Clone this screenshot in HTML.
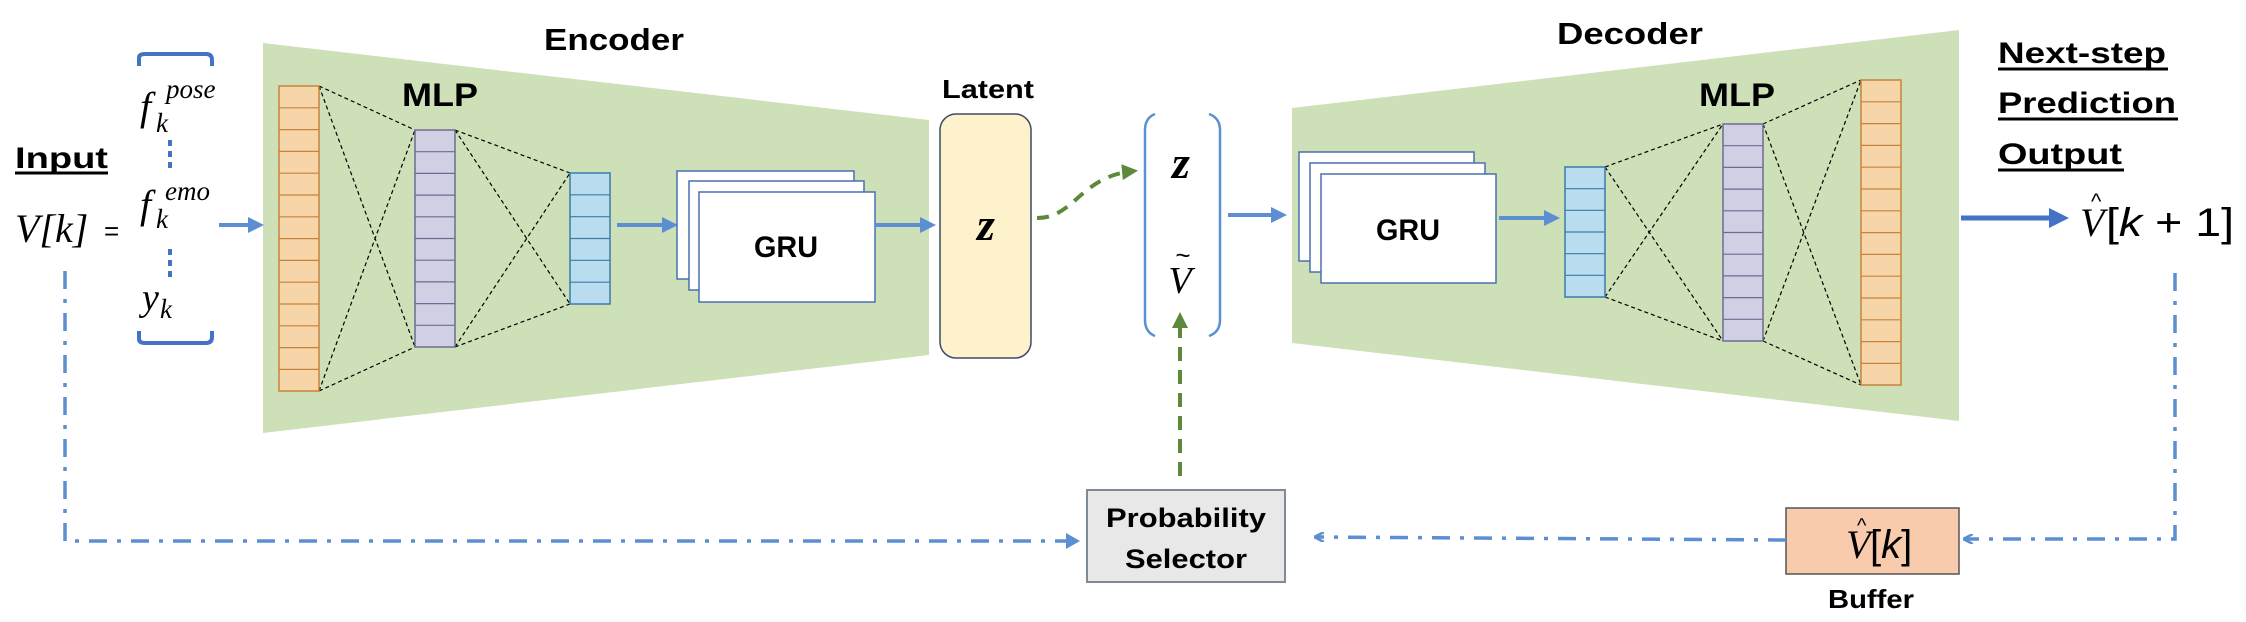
<!DOCTYPE html>
<html><head><meta charset="utf-8"><style>
html,body{margin:0;padding:0;background:#fff;width:2246px;height:622px;overflow:hidden}
svg text{font-family:"Liberation Sans",sans-serif}
.b{font-weight:bold;fill:#000}
.m{font-family:"Liberation Serif",serif !important;font-style:italic;fill:#000}
</style></head><body>
<svg width="2246" height="622" viewBox="0 0 2246 622" xmlns="http://www.w3.org/2000/svg">
<defs>
<marker id="ab" markerWidth="4" markerHeight="4" refX="3" refY="2" orient="auto" markerUnits="strokeWidth"><path d="M0,0 L4,2 L0,4 z" fill="#5b8fd1"/></marker>
<marker id="ad" markerWidth="4" markerHeight="4" refX="3" refY="2" orient="auto" markerUnits="strokeWidth"><path d="M0,0 L4,2 L0,4 z" fill="#4472c4"/></marker>
<marker id="ag" markerWidth="4" markerHeight="4" refX="3" refY="2" orient="auto" markerUnits="strokeWidth"><path d="M0,0 L4,2 L0,4 z" fill="#5d8a3a"/></marker>
<marker id="al" markerWidth="10" markerHeight="10" refX="8" refY="5" orient="auto" markerUnits="userSpaceOnUse"><path d="M0,0 L10,5 L0,10" fill="none" stroke="#5b8fd1" stroke-width="2.5"/></marker>
</defs>

<polygon points="263,43 929,120 929,355 263,433" fill="#cde0b8"/>
<text x="614" y="50" class="b" font-size="31" text-anchor="middle" textLength="140" lengthAdjust="spacingAndGlyphs">Encoder</text>
<text x="440" y="106" class="b" font-size="32" text-anchor="middle" textLength="76" lengthAdjust="spacingAndGlyphs">MLP</text>

<text x="15" y="168" class="b" font-size="30" textLength="93" lengthAdjust="spacingAndGlyphs">Input</text>
<line x1="15" y1="173" x2="108" y2="173" stroke="#000" stroke-width="3"/>
<text x="15" y="242" class="m" font-size="40">V[k]</text>
<text x="104" y="240" font-size="26" fill="#000">=</text>
<path d="M139,66 L139,58 Q139,54 145,54 L206,54 Q212,54 212,60 L212,66" fill="none" stroke="#4472c4" stroke-width="4"/>
<path d="M139,331 L139,339 Q139,343 145,343 L206,343 Q212,343 212,337 L212,331" fill="none" stroke="#4472c4" stroke-width="4"/>
<text x="140" y="120" class="m" font-size="40">f</text><text x="156" y="132" class="m" font-size="27">k</text><text x="166" y="98" class="m" font-size="27">pose</text>
<text x="140" y="218" class="m" font-size="40">f</text><text x="156" y="228" class="m" font-size="27">k</text><text x="165" y="200" class="m" font-size="27">emo</text>
<text x="142" y="310" class="m" font-size="38">y</text><text x="160" y="318" class="m" font-size="27">k</text>
<line x1="170" y1="140" x2="170" y2="168" stroke="#4472c4" stroke-width="4" stroke-dasharray="6,5"/>
<line x1="170" y1="249" x2="170" y2="278" stroke="#4472c4" stroke-width="4" stroke-dasharray="6,5"/>
<line x1="219" y1="225" x2="260" y2="225" stroke="#5b8fd1" stroke-width="4" marker-end="url(#ab)"/>

<g stroke="#000" stroke-width="1.2" stroke-dasharray="4,3" fill="none">
<path d="M319,86 L415,130 M319,86 L415,347 M319,391 L415,130 M319,391 L415,347"/>
<path d="M455,130 L570,173 M455,130 L570,304 M455,347 L570,173 M455,347 L570,304"/>
</g>
<g stroke-width="1.5">
<rect x="279" y="86" width="40" height="305" fill="#f6d5a8" stroke="#c8833a"/>
<rect x="415" y="130" width="40" height="217" fill="#d0cfe3" stroke="#6f6a94"/>
<rect x="570" y="173" width="40" height="131" fill="#b9dcef" stroke="#3b7ca8"/>
</g>
<g stroke-width="1.2">
<path stroke="#c8833a" d="M279,107.8h40M279,129.6h40M279,151.4h40M279,173.2h40M279,195h40M279,216.8h40M279,238.6h40M279,260.4h40M279,282.2h40M279,304h40M279,325.8h40M279,347.6h40M279,369.4h40"/>
<path stroke="#6f6a94" d="M415,151.7h40M415,173.4h40M415,195.1h40M415,216.8h40M415,238.5h40M415,260.2h40M415,281.9h40M415,303.6h40M415,325.3h40"/>
<path stroke="#3b7ca8" d="M570,194.8h40M570,216.7h40M570,238.5h40M570,260.3h40M570,282.2h40"/>
</g>
<line x1="617" y1="225" x2="674" y2="225" stroke="#5b8fd1" stroke-width="4" marker-end="url(#ab)"/>
<g fill="#fff" stroke="#4a6fb0" stroke-width="1.5">
<rect x="677" y="171" width="177" height="108"/>
<rect x="689" y="181" width="175" height="109"/>
<rect x="699" y="192" width="176" height="110"/>
</g>
<text x="786" y="257" class="b" font-size="30" text-anchor="middle" textLength="64" lengthAdjust="spacingAndGlyphs">GRU</text>
<line x1="875" y1="225" x2="932" y2="225" stroke="#5b8fd1" stroke-width="4" marker-end="url(#ab)"/>

<text x="988" y="98" class="b" font-size="26" text-anchor="middle" textLength="92" lengthAdjust="spacingAndGlyphs">Latent</text>
<rect x="940" y="114" width="91" height="244" rx="16" fill="#fdf2cc" stroke="#3c4a66" stroke-width="1.5"/>
<text x="986" y="240" class="m" font-size="46" font-weight="bold" text-anchor="middle">z</text>

<path d="M1037,218 C1075,218 1080,176 1134,171" fill="none" stroke="#5d8a3a" stroke-width="4" stroke-dasharray="12,9" marker-end="url(#ag)"/>

<path d="M1155,114 Q1145,118 1145,130 L1145,320 Q1145,332 1155,336" fill="none" stroke="#5b8fd1" stroke-width="2.5"/>
<path d="M1209,114 Q1220,118 1220,130 L1220,320 Q1220,332 1209,336" fill="none" stroke="#5b8fd1" stroke-width="2.5"/>
<text x="1181" y="178" class="m" font-size="46" font-weight="bold" text-anchor="middle">z</text>
<text x="1180" y="293" class="m" font-size="38" text-anchor="middle">V</text>
<text x="1183" y="264" font-size="26" fill="#000" text-anchor="middle">~</text>
<line x1="1180" y1="476" x2="1180" y2="316" stroke="#5d8a3a" stroke-width="4" stroke-dasharray="14,9" marker-end="url(#ag)"/>
<line x1="1228" y1="215" x2="1283" y2="215" stroke="#5b8fd1" stroke-width="4" marker-end="url(#ab)"/>

<rect x="1087" y="490" width="198" height="92" fill="#e8e8e8" stroke="#7f8a99" stroke-width="2"/>
<text x="1186" y="527" class="b" font-size="27" text-anchor="middle" textLength="160" lengthAdjust="spacingAndGlyphs">Probability</text>
<text x="1186" y="568" class="b" font-size="27" text-anchor="middle" textLength="122" lengthAdjust="spacingAndGlyphs">Selector</text>

<polygon points="1292,108 1959,30 1959,421 1292,343" fill="#cde0b8"/>
<text x="1630" y="44" class="b" font-size="31" text-anchor="middle" textLength="146" lengthAdjust="spacingAndGlyphs">Decoder</text>
<text x="1737" y="106" class="b" font-size="32" text-anchor="middle" textLength="76" lengthAdjust="spacingAndGlyphs">MLP</text>
<g fill="#fff" stroke="#4a6fb0" stroke-width="1.5">
<rect x="1299" y="152" width="175" height="109"/>
<rect x="1310" y="163" width="175" height="109"/>
<rect x="1321" y="174" width="175" height="109"/>
</g>
<text x="1408" y="240" class="b" font-size="30" text-anchor="middle" textLength="64" lengthAdjust="spacingAndGlyphs">GRU</text>
<line x1="1499" y1="218" x2="1556" y2="218" stroke="#5b8fd1" stroke-width="4" marker-end="url(#ab)"/>
<g stroke="#000" stroke-width="1.2" stroke-dasharray="4,3" fill="none">
<path d="M1605,167 L1723,124 M1605,167 L1723,341 M1605,297 L1723,124 M1605,297 L1723,341"/>
<path d="M1763,124 L1861,80 M1763,124 L1861,385 M1763,341 L1861,80 M1763,341 L1861,385"/>
</g>
<g stroke-width="1.5">
<rect x="1565" y="167" width="40" height="130" fill="#b9dcef" stroke="#3b7ca8"/>
<rect x="1723" y="124" width="40" height="217" fill="#d0cfe3" stroke="#6f6a94"/>
<rect x="1861" y="80" width="40" height="305" fill="#f6d5a8" stroke="#c8833a"/>
</g>
<g stroke-width="1.2">
<path stroke="#3b7ca8" d="M1565,188.7h40M1565,210.3h40M1565,232h40M1565,253.7h40M1565,275.3h40"/>
<path stroke="#6f6a94" d="M1723,145.7h40M1723,167.4h40M1723,189.1h40M1723,210.8h40M1723,232.5h40M1723,254.2h40M1723,275.9h40M1723,297.6h40M1723,319.3h40"/>
<path stroke="#c8833a" d="M1861,101.8h40M1861,123.6h40M1861,145.4h40M1861,167.2h40M1861,189h40M1861,210.8h40M1861,232.6h40M1861,254.4h40M1861,276.2h40M1861,298h40M1861,319.8h40M1861,341.6h40M1861,363.4h40"/>
</g>

<text x="1998" y="63" class="b" font-size="30" textLength="168" lengthAdjust="spacingAndGlyphs">Next-step</text>
<line x1="1998" y1="69" x2="2168" y2="69" stroke="#000" stroke-width="3"/>
<text x="1998" y="113" class="b" font-size="30" textLength="178" lengthAdjust="spacingAndGlyphs">Prediction</text>
<line x1="1998" y1="119" x2="2178" y2="119" stroke="#000" stroke-width="3"/>
<text x="1998" y="164" class="b" font-size="30" textLength="124" lengthAdjust="spacingAndGlyphs">Output</text>
<line x1="1998" y1="170" x2="2124" y2="170" stroke="#000" stroke-width="3"/>
<line x1="1961" y1="218" x2="2064" y2="218" stroke="#4472c4" stroke-width="5" marker-end="url(#ad)"/>
<text x="2080" y="236" class="m" font-size="40">V</text>
<text x="2091" y="209" font-size="22" fill="#000">^</text>
<text x="2106" y="236" font-size="40" font-family="Liberation Serif" fill="#000" textLength="128" lengthAdjust="spacingAndGlyphs">[<tspan font-style="italic">k</tspan> + 1]</text>

<path d="M2175,273 L2175,539 L1965,539" fill="none" stroke="#5b8fd1" stroke-width="3.5" stroke-dasharray="18,10,4,10" marker-end="url(#al)"/>
<rect x="1786" y="508" width="173" height="66" fill="#f8cbad" stroke="#555" stroke-width="1.5"/>
<text x="1846" y="558" class="m" font-size="40">V</text>
<text x="1857" y="532" font-size="20" fill="#000">^</text>
<text x="1870" y="558" font-size="40" font-family="Liberation Serif" fill="#000">[<tspan font-style="italic">k</tspan>]</text>
<text x="1871" y="608" class="b" font-size="26" text-anchor="middle" textLength="86" lengthAdjust="spacingAndGlyphs">Buffer</text>
<path d="M1786,540 L1316,537" fill="none" stroke="#5b8fd1" stroke-width="3.5" stroke-dasharray="18,10,4,10" marker-end="url(#al)"/>

<path d="M65,271 L65,541 L1070,541" fill="none" stroke="#5b8fd1" stroke-width="3.5" stroke-dasharray="18,10,4,10"/>
<path d="M1066,533 L1080,541 L1066,549 z" fill="#5b8fd1"/>
</svg>
</body></html>
